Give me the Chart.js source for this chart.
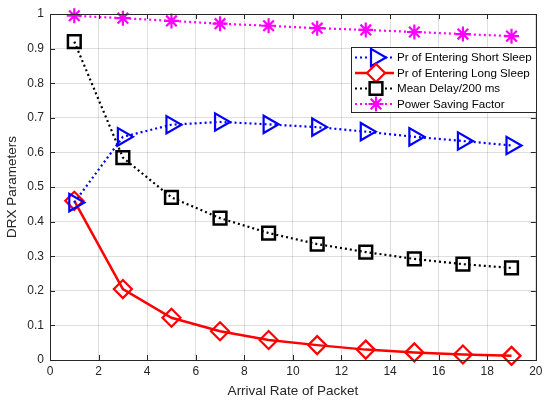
<!DOCTYPE html>
<html>
<head>
<meta charset="utf-8">
<script src="https://cdn.jsdelivr.net/npm/chart.js@4"></script>
<style>
  html, body { margin: 0; padding: 0; background: #fff; }
  #wrap { width: 548px; height: 403px; position: relative; }
</style>
</head>
<body>
<div id="wrap"><canvas id="drx"></canvas></div>
<script>
const arrivalRate = [1, 3, 5, 7, 9, 11, 13, 15, 17, 19];
const shortSleep = [0.455, 0.645, 0.68, 0.688, 0.681, 0.673, 0.66, 0.645, 0.633, 0.62];
const longSleep = [0.46, 0.205, 0.122, 0.083, 0.058, 0.043, 0.03, 0.022, 0.016, 0.012];
const meanDelay = [0.92, 0.585, 0.47, 0.41, 0.367, 0.335, 0.312, 0.292, 0.277, 0.266];
const powerSaving = [0.995, 0.988, 0.98, 0.972, 0.966, 0.959, 0.954, 0.948, 0.942, 0.936];
const seriesNames = ['Pr of Entering Short Sleep', 'Pr of Entering Long Sleep', 'Mean Delay/200 ms', 'Power Saving Factor'];

const toPoints = ys => ys.map((y, i) => ({ x: arrivalRate[i], y: y }));
const FONT = 'Liberation Sans, Arial, sans-serif';
const AXIS = '#262626';

// legend drawn inside the plot, MATLAB style
const boxLegend = {
  id: 'boxLegend',
  afterDraw(chart) {
    const ctx = chart.ctx;
    const left = 351.5, top = 47.5, w = 185, h = 65;
    ctx.save();
    ctx.fillStyle = '#fff';
    ctx.fillRect(left, top, w, h);
    ctx.strokeStyle = AXIS;
    ctx.lineWidth = 1;
    ctx.strokeRect(left, top, w, h);
    chart.data.datasets.forEach((ds, i) => {
      const y = 57.5 + i * 15.5;
      ctx.save();
      ctx.strokeStyle = ds.borderColor;
      ctx.lineWidth = ds.borderWidth;
      ctx.setLineDash(ds.borderDash || []);
      ctx.beginPath();
      ctx.moveTo(355, y);
      ctx.lineTo(394, y);
      ctx.stroke();
      ctx.setLineDash([]);
      ctx.fillStyle = '#fff';
      ctx.strokeStyle = ds.pointBorderColor;
      ctx.lineWidth = ds.pointBorderWidth;
      Chart.helpers.drawPoint(ctx, {
        pointStyle: ds.pointStyle, rotation: ds.pointRotation || 0,
        radius: ds.pointRadius, borderWidth: ds.pointBorderWidth
      }, 376, y);
      ctx.restore();
      ctx.fillStyle = '#000';
      ctx.font = '11.6px ' + FONT;
      ctx.textBaseline = 'middle';
      ctx.fillText(ds.label, 397, y + 0.5);
    });
    ctx.restore();
  }
};

// inward tick marks and the box on all four sides
const innerTicks = {
  id: 'innerTicks',
  afterDatasetsDraw(chart) {
    const { ctx, chartArea: a, scales } = chart;
    ctx.save();
    ctx.strokeStyle = AXIS;
    ctx.lineWidth = 1;
    ctx.beginPath();
    scales.x.ticks.forEach(t => {
      const px = Math.round(scales.x.getPixelForValue(t.value)) + 0.5;
      ctx.moveTo(px, a.bottom); ctx.lineTo(px, a.bottom - 5);
      ctx.moveTo(px, a.top); ctx.lineTo(px, a.top + 5);
    });
    scales.y.ticks.forEach(t => {
      const py = Math.round(scales.y.getPixelForValue(t.value)) + 0.5;
      ctx.moveTo(a.left, py); ctx.lineTo(a.left + 5, py);
      ctx.moveTo(a.right, py); ctx.lineTo(a.right - 5, py);
    });
    ctx.stroke();
    ctx.strokeRect(Math.round(a.left) + 0.5, Math.round(a.top) + 0.5,
      Math.round(a.right - a.left), Math.round(a.bottom - a.top));
    ctx.restore();
  }
};

new Chart(document.getElementById('drx'), {
  type: 'line',
  data: {
    datasets: [
      {
        label: seriesNames[0], data: toPoints(shortSleep),
        borderColor: '#0000ff', borderWidth: 2.2, borderDash: [2, 3],
        pointStyle: 'triangle', pointRotation: 90, pointRadius: 10,
        pointBorderWidth: 2.2, pointBorderColor: '#0000ff', pointBackgroundColor: 'rgba(0,0,0,0)'
      },
      {
        label: seriesNames[1], data: toPoints(longSleep),
        borderColor: '#ff0000', borderWidth: 2.5,
        pointStyle: 'rectRot', pointRadius: 9,
        pointBorderWidth: 2.2, pointBorderColor: '#ff0000', pointBackgroundColor: 'rgba(0,0,0,0)'
      },
      {
        label: seriesNames[2], data: toPoints(meanDelay),
        borderColor: '#000000', borderWidth: 2.2, borderDash: [2, 3],
        pointStyle: 'rect', pointRadius: 9,
        pointBorderWidth: 2.5, pointBorderColor: '#000000', pointBackgroundColor: 'rgba(0,0,0,0)'
      },
      {
        label: seriesNames[3], data: toPoints(powerSaving),
        borderColor: '#ff00ff', borderWidth: 2.2, borderDash: [2, 3],
        pointStyle: 'star', pointRadius: 7.5,
        pointBorderWidth: 2.2, pointBorderColor: '#ff00ff', pointBackgroundColor: 'rgba(0,0,0,0)'
      }
    ]
  },
  options: {
    responsive: true,
    maintainAspectRatio: false,
    animation: false,
    clip: false,
    layout: { padding: { left: 0, right: 9, top: 14, bottom: 0 } },
    plugins: { legend: { display: false }, tooltip: { enabled: false } },
    scales: {
      x: {
        type: 'linear', min: 0, max: 20,
        afterFit: s => { s.height = 43; },
        ticks: { stepSize: 2, color: AXIS, padding: 4, font: { family: FONT, size: 12 } },
        grid: { color: 'rgba(0,0,0,0.13)', drawTicks: false },
        border: { display: false },
        title: { display: true, text: 'Arrival Rate of Packet', color: AXIS, padding: { top: 1 },
          font: { family: FONT, size: 13.5 } }
      },
      y: {
        min: 0, max: 1,
        afterFit: s => { s.width = 50; },
        ticks: { stepSize: 0.1, color: AXIS, padding: 6, font: { family: FONT, size: 12 },
          callback: v => String(Math.round(v * 10) / 10) },
        grid: { color: 'rgba(0,0,0,0.13)', drawTicks: false },
        border: { display: false },
        title: { display: true, text: 'DRX Parameters', color: AXIS, padding: { bottom: 2 },
          font: { family: FONT, size: 13.5 } }
      }
    }
  },
  plugins: [innerTicks, boxLegend]
});
</script>
</body>
</html>
